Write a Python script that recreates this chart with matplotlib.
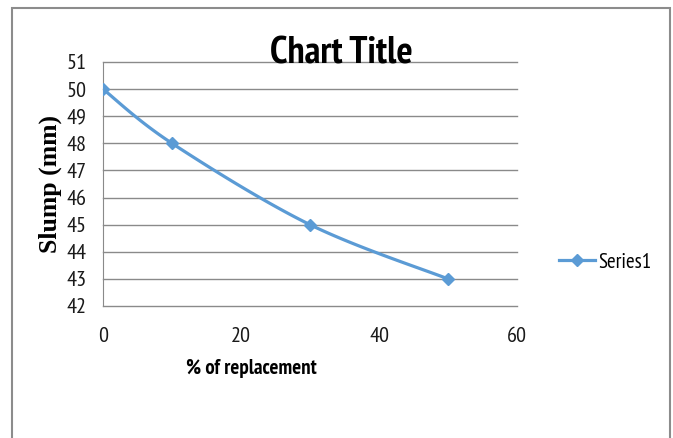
import numpy as np
import matplotlib
matplotlib.use("Agg")
import matplotlib.pyplot as plt
from matplotlib import font_manager
from matplotlib.lines import Line2D
from matplotlib.patches import Rectangle

# slump test results
replacement = [0, 10, 30, 50]
slump = [50, 48, 45, 43]
series_name = "Series1"

x_ticks = [0, 20, 40, 60]
y_ticks = list(range(42, 52))

names = {f.name for f in font_manager.fontManager.ttflist}
narrow = "PT Sans Narrow" if "PT Sans Narrow" in names else "DejaVu Sans"
serif = "Liberation Serif" if "Liberation Serif" in names else "DejaVu Serif"

blue = "#5b9bd5"
grid_gray = "#8a8a8a"


def smooth(xs, ys, n=40):
    # Catmull-Rom curve drawn as cubic Bezier segments (Excel "smoothed line")
    p = np.column_stack([xs, ys]).astype(float)
    p = np.vstack([p[0], p, p[-1]])
    out = []
    t = np.linspace(0, 1, n)[:, None]
    for i in range(1, len(p) - 2):
        p0, p3 = p[i], p[i + 1]
        c1 = p0 + (p[i + 1] - p[i - 1]) / 6
        c2 = p3 - (p[i + 2] - p[i]) / 6
        seg = ((1 - t) ** 3) * p0 + 3 * ((1 - t) ** 2) * t * c1 + 3 * (1 - t) * t ** 2 * c2 + t ** 3 * p3
        out.append(seg)
    out = np.vstack(out)
    return out[:, 0], out[:, 1]


fig = plt.figure(figsize=(6.73, 4.38), dpi=100)
ax = fig.add_axes([103 / 673, 1 - 306 / 438, 414 / 673, 244 / 438])

sx, sy = smooth(replacement, slump)
ax.plot(sx, sy, color=blue, lw=2.3, solid_capstyle="round", zorder=3)
ax.plot(replacement, slump, ls="none", marker="D", ms=6, color=blue, zorder=4)

ax.set_xlim(0, 60)
ax.set_ylim(42, 51)
ax.set_xticks(x_ticks)
ax.set_yticks(y_ticks)
ax.grid(axis="y", color=grid_gray, lw=1)
for gl in ax.get_ygridlines():
    gl.set_clip_on(False)
ax.set_axisbelow(True)
for s in ["top", "right", "bottom"]:
    ax.spines[s].set_visible(False)
ax.spines["left"].set_color(grid_gray)
ax.tick_params(length=0, labelsize=16, colors="#1a1a1a")
ax.tick_params(axis="y", pad=12)
ax.tick_params(axis="x", pad=15)
for lab in ax.get_xticklabels() + ax.get_yticklabels():
    lab.set_fontfamily(narrow)

ax.set_xlabel("% of replacement", fontfamily=narrow, fontweight="bold", fontsize=15)
ax.xaxis.label.set_va("center")
ax.xaxis.set_label_coords((251 - 103) / 414, (306 - 369) / 244)

ax.set_ylabel("Slump (mm)", fontfamily=serif, fontweight="bold", fontsize=18.5)
ax.yaxis.label.set_va("center")
ax.yaxis.set_label_coords((50 - 103) / 414, (306 - 184) / 244)

fig.text(341 / 673, 1 - 63 / 438, "Chart Title", ha="center", va="baseline",
         fontfamily=narrow, fontweight="bold", fontsize=27.5)

handle = Line2D([], [], color=blue, lw=2.3, marker="D", ms=6)
fig.legend([handle], [series_name], loc="center left",
           bbox_to_anchor=(559 / 673, 1 - 262 / 438), frameon=False,
           borderpad=0, borderaxespad=0, handlelength=1.75, handletextpad=0.15,
           prop={"family": narrow, "size": 15})

# chart area frame
fig.add_artist(Rectangle((12 / 673, -0.05), (670 - 12) / 673, 1.05 - 8 / 438,
                         transform=fig.transFigure, fill=False,
                         edgecolor="#8c8c8c", lw=1.5))

fig.savefig("out.png", dpi=100)
